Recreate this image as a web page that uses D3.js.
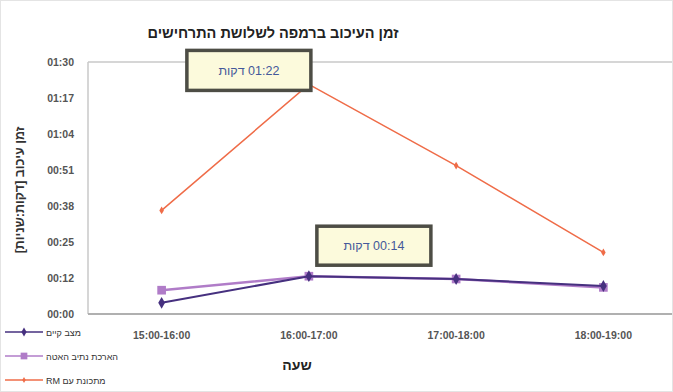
<!DOCTYPE html>
<html>
<head>
<meta charset="utf-8">
<script src="https://cdn.jsdelivr.net/npm/d3@7"></script>
<style>
  body { margin: 0; background: #fff; }
  svg { font-family: "Liberation Sans", Arial, "DejaVu Sans", sans-serif; }
  .rtl { direction: rtl; unicode-bidi: embed; }
</style>
</head>
<body>
<svg id="chart"></svg>
<script>
// נתונים
const categories = ['15:00-16:00', '16:00-17:00', '17:00-18:00', '18:00-19:00'];
const seriesNames = ['מצב קיים', 'הארכת נתיב האטה', 'מתכונת עם RM'];
const current = [4, 13.5, 12.5, 10];      // דקות
const extended = [8.5, 13.5, 12.5, 9.5];
const withRM = [37, 82, 53, 22];
const yTickLabels = ['00:00', '00:12', '00:25', '00:38', '00:51', '01:04', '01:17', '01:30'];
const yMax = 90;
const callouts = [
  { series: 2, index: 1, text: '01:22 דקות' },
  { series: 1, index: 1, text: '00:14 דקות' }
];

const width = 673, height = 392;
const margin = { top: 62, right: 0, bottom: 78, left: 88 };
const innerWidth = width - margin.left - margin.right;
const innerHeight = height - margin.top - margin.bottom;

const svg = d3.select('#chart').attr('width', width).attr('height', height);

// הקטגוריות ברוחב 147 פיקסלים, האחרונה נחתכת בקצה
const x = d3.scaleBand().domain(categories).range([0, innerWidth + 4]);
const y = d3.scaleLinear().domain([0, yMax]).range([innerHeight, 0]);

const g = svg.append('g').attr('transform', `translate(${margin.left},${margin.top})`);

// מסגרת
g.append('line').attr('x1', 0).attr('x2', innerWidth).attr('y1', 0).attr('y2', 0)
  .attr('stroke', '#c8c8c8').attr('stroke-width', 1.5);
g.append('line').attr('x1', 0).attr('x2', 0).attr('y1', 0).attr('y2', innerHeight)
  .attr('stroke', '#c8c8c8').attr('stroke-width', 1.5);
g.append('line').attr('x1', 0).attr('x2', innerWidth).attr('y1', innerHeight).attr('y2', innerHeight)
  .attr('stroke', '#b0b0b0').attr('stroke-width', 2);

// ציר Y
const yTicks = yTickLabels.map((d, i) => i * yMax / (yTickLabels.length - 1));
const yAxis = g.append('g')
  .call(d3.axisLeft(y).tickValues(yTicks).tickSize(0).tickPadding(14)
    .tickFormat((d, i) => yTickLabels[i]));
yAxis.select('.domain').remove();
yAxis.selectAll('text').attr('font-size', 10.5).attr('font-weight', 'bold').attr('fill', '#555');

// ציר X
const xAxis = g.append('g').attr('transform', `translate(0,${innerHeight})`)
  .call(d3.axisBottom(x).tickSize(0).tickPadding(18));
xAxis.select('.domain').remove();
xAxis.selectAll('text').attr('font-size', 10.5).attr('font-weight', 'bold').attr('fill', '#555');

// קווים
const series = [
  { values: current, color: '#46307f', marker: 'diamond', size: 40, width: 2 },
  { values: extended, color: '#b07cc8', marker: 'square', size: 75, width: 2.5 },
  { values: withRM, color: '#ef6c48', marker: 'triangle', size: 18, width: 1.5 }
];
const line = d3.line()
  .x((d, i) => x(categories[i]) + x.bandwidth() / 2)
  .y(d => y(d));
const symbols = { diamond: d3.symbolDiamond, square: d3.symbolSquare, triangle: d3.symbolDiamond };

[1, 0, 2].forEach(si => {
  const s = series[si];
  g.append('path').datum(s.values)
    .attr('fill', 'none').attr('stroke', s.color).attr('stroke-width', s.width)
    .attr('d', line);
  g.selectAll(null).data(s.values).enter().append('path')
    .attr('d', d3.symbol().type(symbols[s.marker]).size(s.size))
    .attr('transform', (d, i) => `translate(${x(categories[i]) + x.bandwidth() / 2},${y(d)})`)
    .attr('fill', s.color);
});

// תוויות
const calloutBoxes = [
  { dx: -122, dy: -34, w: 124, h: 40 },
  { dx: 8, dy: -50, w: 114, h: 39 }
];
callouts.forEach((c, k) => {
  const px = x(categories[c.index]) + x.bandwidth() / 2;
  const py = y(series[c.series].values[c.index]);
  const b = calloutBoxes[k];
  const bg = g.append('g').attr('transform', `translate(${px + b.dx},${py + b.dy})`);
  bg.append('rect').attr('width', b.w).attr('height', b.h)
    .attr('fill', '#fcfadc').attr('stroke', '#4d4d45').attr('stroke-width', 3.5);
  bg.append('text').attr('class', 'rtl').attr('x', b.w / 2).attr('y', b.h / 2 + 4.5)
    .attr('text-anchor', 'middle').attr('font-size', 12.5)
    .attr('fill', '#44589a')
    .text(c.text);
});

// כותרות
svg.append('text').attr('x', 273).attr('y', 38).attr('text-anchor', 'middle')
  .attr('font-size', 14.5).attr('font-weight', 'bold').attr('fill', '#222')
  .text('זמן העיכוב ברמפה לשלושת התרחישים');
svg.append('text').attr('x', 297).attr('y', 370).attr('text-anchor', 'middle')
  .attr('font-size', 14).attr('font-weight', 'bold').attr('fill', '#222')
  .text('שעה');
svg.append('text').attr('transform', 'translate(24,190) rotate(-90)').attr('text-anchor', 'middle')
  .attr('font-size', 12.5).attr('font-weight', 'bold').attr('fill', '#333')
  .text('זמן עיכוב [דקות:שניות]');

// מקרא
const legend = svg.append('g').attr('transform', 'translate(0,320)');
legend.append('rect').attr('x', 1).attr('y', 0).attr('width', 116).attr('height', 68).attr('fill', '#fff');
seriesNames.forEach((name, i) => {
  const s = series[i];
  const row = legend.append('g').attr('transform', `translate(0,${12 + i * 24})`);
  row.append('line').attr('x1', 5).attr('x2', 43).attr('stroke', s.color).attr('stroke-width', 1.5);
  row.append('path').attr('d', d3.symbol().type(symbols[s.marker]).size(s.size * 0.6))
    .attr('transform', 'translate(24,0)').attr('fill', s.color);
  row.append('text').attr('class', 'rtl').attr('x', 46).attr('y', 3.5)
    .attr('text-anchor', 'end').attr('font-size', 9).attr('fill', '#333')
    .text(name);
});

// מסגרת חיצונית
svg.append('rect').attr('x', 0.5).attr('y', 0.5).attr('width', width - 1).attr('height', height - 1)
  .attr('fill', 'none').attr('stroke', '#e4e4e4');
</script>
</body>
</html>
